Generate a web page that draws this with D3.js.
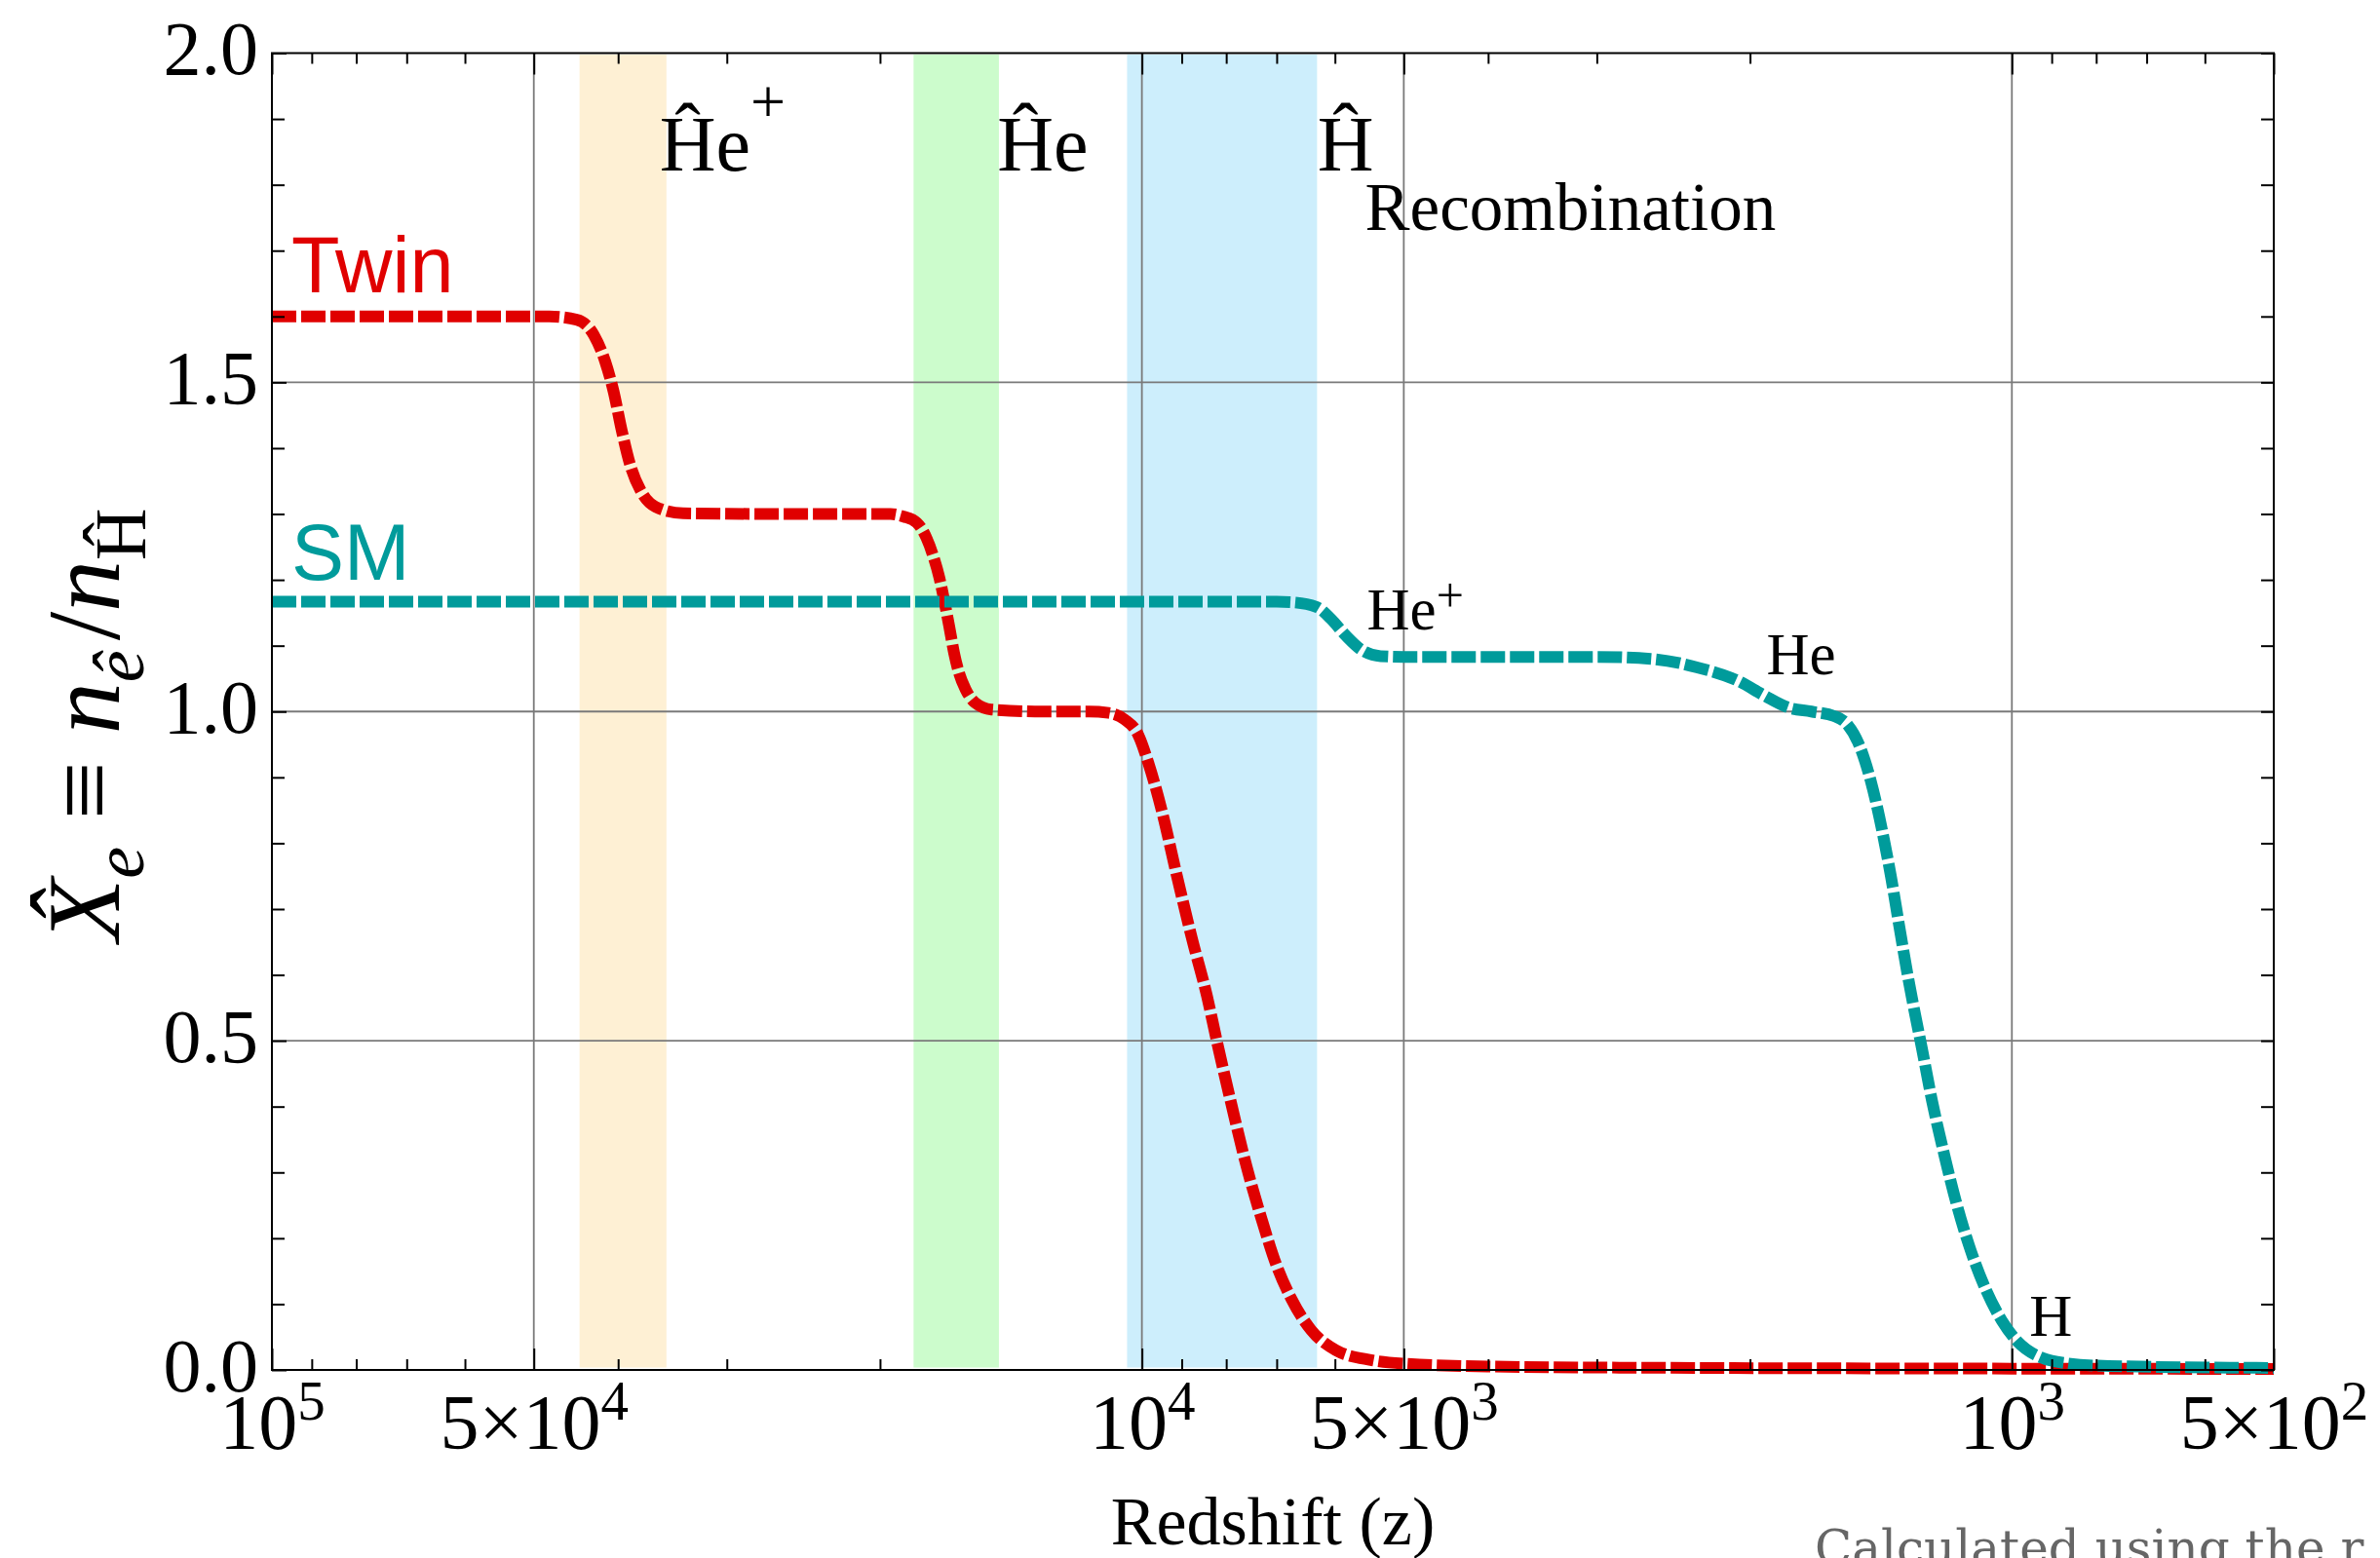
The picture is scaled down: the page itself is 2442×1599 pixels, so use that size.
<!DOCTYPE html>
<html>
<head>
<meta charset="utf-8">
<script src="https://cdn.jsdelivr.net/npm/d3@7"></script>
<style>
  body { margin: 0; background: #fff; overflow: hidden; }
  svg { display: block; }
</style>
</head>
<body>
<div id="chart"></div>
<script>
// values: redshift z and ionization fraction X_e
var twinZ = [100000, 60000, 48000, 44640, 42660, 41400, 40480, 39620, 38730, 37630,
             36240, 33680, 25000, 19450, 18780, 18150, 17690, 17380, 17090, 16870,
             16650, 16440, 16230, 15950, 15540, 14890, 13000, 11500, 10925, 10470,
             10110, 9820, 9473, 9114, 8758, 8418, 8200, 7889, 7577, 7284,
             7008, 6733, 6384, 5985, 5454, 4998, 3925, 2827, 1000, 500];
var twinXe = [1.6, 1.6, 1.6, 1.595, 1.572, 1.532, 1.486, 1.427, 1.374, 1.334,
              1.311, 1.301, 1.3, 1.3, 1.296, 1.287, 1.264, 1.237, 1.203, 1.168,
              1.129, 1.089, 1.059, 1.034, 1.013, 1.003, 1.0, 1.0, 0.998, 0.988,
              0.966, 0.92, 0.846, 0.750, 0.655, 0.568, 0.499, 0.403, 0.308, 0.229,
              0.160, 0.108, 0.060, 0.030, 0.015, 0.0095, 0.005, 0.0035, 0.002, 0.0015];

var smZ = [100000, 20000, 7000, 6733, 6303, 6066, 5826, 5598, 5315, 4998,
           3000, 2600, 2300, 2060, 1930, 1806, 1700, 1600, 1545, 1500,
           1453, 1407, 1377, 1348, 1319, 1291, 1269, 1235, 1196, 1158,
           1120, 1073, 1027, 985, 922, 863, 774, 500];
var smXe = [1.1667, 1.1667, 1.1667, 1.166, 1.159, 1.141, 1.115, 1.094, 1.084, 1.083,
            1.083, 1.080, 1.067, 1.046, 1.025, 1.006, 1.0, 0.993, 0.98, 0.951,
            0.895, 0.814, 0.749, 0.676, 0.603, 0.538, 0.489, 0.408, 0.327, 0.253,
            0.189, 0.124, 0.075, 0.043, 0.018, 0.010, 0.006, 0.003];

// twin recombination bands (z from / to)
var bandNames = ["He+", "He", "H"];
var bandStart = [44300, 18300, 10400];
var bandEnd = [35200, 14600, 6290];

// axis ticks
var xMajor = [100000, 50000, 10000, 5000, 1000, 500];
var xMajorPre = ["", "5\u00d7", "", "5\u00d7", "", "5\u00d7"];
var xMajorExp = ["5", "4", "4", "3", "3", "2"];
var xMinor = [90000, 80000, 70000, 60000, 40000, 30000, 20000,
              9000, 8000, 7000, 6000, 4000, 3000, 2000,
              900, 800, 700, 600];
var yMajor = [0, 0.5, 1, 1.5, 2];
var yMinor = [0.1, 0.2, 0.3, 0.4, 0.6, 0.7, 0.8, 0.9, 1.1, 1.2, 1.3, 1.4, 1.6, 1.7, 1.8, 1.9];

var W = 2442, H = 1599;
var margin = {top: 54.5, right: 109, bottom: 193, left: 279};
var serif = "'Liberation Serif', 'Times New Roman', serif";
var sans = "'Liberation Sans', Arial, sans-serif";
var bandColors = ["#fef0d4", "#ccfccc", "#cdeefc"];
var twinColor = "#e00000", smColor = "#009b9b";

var svg = d3.select("#chart").append("svg")
    .attr("width", W)
    .attr("height", H);

var x = d3.scaleLog()
    .domain([100000, 500])
    .range([margin.left, W - margin.right]);
var y = d3.scaleLinear()
    .domain([0, 2])
    .range([H - margin.bottom, margin.top]);

// bands
svg.append("g").selectAll("rect")
  .data(bandNames)
  .enter().append("rect")
    .attr("x", function(d, i) { return x(bandStart[i]); })
    .attr("width", function(d, i) { return x(bandEnd[i]) - x(bandStart[i]); })
    .attr("y", y(2) + 1.5)
    .attr("height", y(0) - y(2) - 4)
    .attr("fill", function(d, i) { return bandColors[i]; });

// grid
var grid = svg.append("g").attr("stroke", "#7a7a7a").attr("stroke-width", 1.8);
grid.selectAll(".vg")
  .data([50000, 10000, 5000, 1000])
  .enter().append("line")
    .attr("x1", function(d) { return x(d); })
    .attr("x2", function(d) { return x(d); })
    .attr("y1", y(2))
    .attr("y2", y(0));
grid.selectAll(".hg")
  .data([0.5, 1, 1.5])
  .enter().append("line")
    .attr("y1", function(d) { return y(d); })
    .attr("y2", function(d) { return y(d); })
    .attr("x1", x(100000))
    .attr("x2", x(500));

// curves
var line = d3.line()
    .x(function(d) { return x(d[0]); })
    .y(function(d) { return y(d[1]); })
    .curve(d3.curveMonotoneX);

svg.append("path")
    .datum(twinZ.map(function(z, i) { return [z, twinXe[i]]; }))
    .attr("d", line)
    .attr("fill", "none")
    .attr("stroke", twinColor)
    .attr("stroke-width", 12)
    .attr("stroke-dasharray", "25 5");

svg.append("path")
    .datum(smZ.map(function(z, i) { return [z, smXe[i]]; }))
    .attr("d", line)
    .attr("fill", "none")
    .attr("stroke", smColor)
    .attr("stroke-width", 12)
    .attr("stroke-dasharray", "25 5");

// frame
svg.append("rect")
    .attr("x", x(100000))
    .attr("y", y(2))
    .attr("width", x(500) - x(100000))
    .attr("height", y(0) - y(2))
    .attr("fill", "none")
    .attr("stroke", "#000")
    .attr("stroke-width", 2);

function styleTicks(g) {
  g.select(".domain").remove();
  g.selectAll(".tick line").attr("stroke", "#000").attr("stroke-width", 2);
}

// bottom axis
var gxb = svg.append("g")
    .attr("transform", "translate(0," + y(0) + ")")
    .call(d3.axisBottom(x).tickValues(xMajor).tickSize(-22).tickSizeOuter(0))
    .call(styleTicks);
gxb.selectAll(".tick text")
    .attr("y", 81)
    .attr("dy", null)
    .style("font-family", serif)
    .style("font-size", "80px")
    .attr("fill", "#000")
    .each(function(d, i) {
      var t = d3.select(this).text(null);
      t.append("tspan").text(xMajorPre[i] + "10");
      t.append("tspan").attr("dy", -30).style("font-size", "57px").text(xMajorExp[i]);
    });
svg.append("g")
    .attr("transform", "translate(0," + y(0) + ")")
    .call(d3.axisBottom(x).tickValues(xMinor).tickSize(-11).tickSizeOuter(0).tickFormat(""))
    .call(styleTicks);

// top axis
svg.append("g")
    .attr("transform", "translate(0," + y(2) + ")")
    .call(d3.axisTop(x).tickValues(xMajor).tickSize(-22).tickSizeOuter(0).tickFormat(""))
    .call(styleTicks);
svg.append("g")
    .attr("transform", "translate(0," + y(2) + ")")
    .call(d3.axisTop(x).tickValues(xMinor).tickSize(-11).tickSizeOuter(0).tickFormat(""))
    .call(styleTicks);

// left axis
var gyl = svg.append("g")
    .attr("transform", "translate(" + x(100000) + ",0)")
    .call(d3.axisLeft(y).tickValues(yMajor).tickSize(-15).tickSizeOuter(0)
          .tickPadding(14).tickFormat(d3.format(".1f")))
    .call(styleTicks);
gyl.selectAll(".tick text")
    .attr("dy", "0.27em")
    .attr("fill", "#000")
    .style("font-family", serif)
    .style("font-size", "78px");
svg.append("g")
    .attr("transform", "translate(" + x(100000) + ",0)")
    .call(d3.axisLeft(y).tickValues(yMinor).tickSize(-13).tickSizeOuter(0).tickFormat(""))
    .call(styleTicks);

// right axis
svg.append("g")
    .attr("transform", "translate(" + x(500) + ",0)")
    .call(d3.axisRight(y).tickValues(yMajor.concat(yMinor)).tickSize(-13).tickSizeOuter(0).tickFormat(""))
    .call(styleTicks);

// axis titles
svg.append("text")
    .attr("x", (x(100000) + x(500)) / 2)
    .attr("y", 1585)
    .attr("text-anchor", "middle")
    .style("font-family", serif)
    .style("font-size", "70px")
    .text("Redshift (z)");

var ylab = svg.append("text")
    .attr("transform", "translate(122,744) rotate(-90)")
    .attr("text-anchor", "middle")
    .style("font-family", serif)
    .style("font-size", "106px");
ylab.append("tspan").style("font-style", "italic").text("X\u0302");
ylab.append("tspan").style("font-style", "italic").style("font-size", "74px").attr("dy", 25).text("e");
ylab.append("tspan").attr("dy", -25).attr("dx", 28).text("\u2261");
ylab.append("tspan").attr("dx", 28).style("font-style", "italic").text("n");
ylab.append("tspan").style("font-style", "italic").style("font-size", "74px").attr("dy", 25).text("\u00ea");
ylab.append("tspan").attr("dy", -25).attr("dx", 10).text("/");
ylab.append("tspan").style("font-style", "italic").text("n");
ylab.append("tspan").style("font-size", "74px").attr("dy", 27).text("\u0124");

// annotations (anchored in data coordinates)
function note(z, v, size, family, color) {
  return svg.append("text")
      .attr("x", x(z))
      .attr("y", y(v))
      .style("font-family", family)
      .style("font-size", size + "px")
      .attr("fill", color || "#000");
}
var a1 = note(35840, 1.822, 80, serif);
a1.append("tspan").text("\u0124e");
a1.append("tspan").attr("dy", -49).style("font-size", "64px").text("+");
note(14660, 1.822, 80, serif).text("\u0124e");
note(6285, 1.822, 80, serif).text("\u0124");
note(5540, 1.731, 69, serif).text("Recombination");

var a2 = note(5513, 1.124, 61, serif);
a2.append("tspan").text("He");
a2.append("tspan").attr("dy", -18).style("font-size", "50px").text("+");
note(1915, 1.057, 61, serif).text("He");
note(954.6, 0.052, 61, serif).text("H");

note(95000, 1.637, 81, sans, twinColor).text("Twin");
note(95000, 1.2, 81, sans, smColor).text("SM");

// footnote, cut by the bottom edge
svg.append("text")
    .attr("x", 1862)
    .attr("y", 1606)
    .style("font-family", "'DejaVu Serif', serif")
    .style("font-size", "50px")
    .attr("fill", "#666")
    .text("Calculated using the r");
</script>
</body>
</html>
